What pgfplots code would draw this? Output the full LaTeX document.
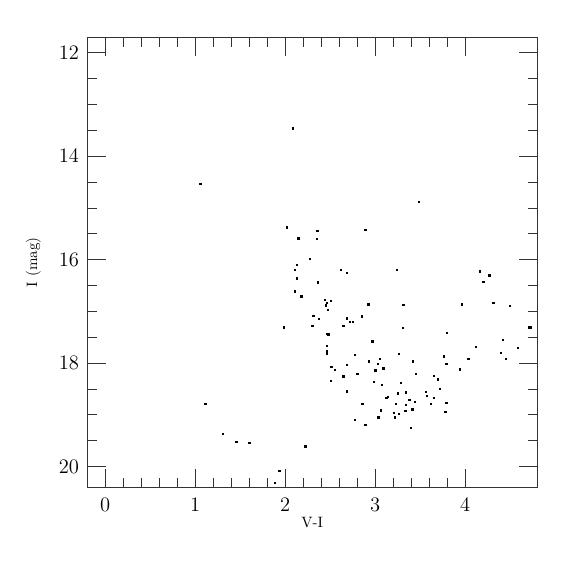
\documentclass[border=0pt]{standalone}
\usepackage{pgfplots}
\pgfplotsset{compat=1.18}
\begin{document}
\begin{tikzpicture}
\useasboundingbox (-61.1pt,-61.4pt) rectangle (341.4pt,341.1pt);
\begin{axis}[
  at={(0,0)}, anchor=south west,
  scale only axis, width=315pt, height=315pt,
  xmin=-0.2, xmax=4.8, ymin=11.7, ymax=20.4,
  y dir=reverse,
  xtick={0,1,2,3,4}, ytick={12,14,16,18,20},
  minor x tick num=4, minor y tick num=3,
  tick align=inside,
  major tick length=13pt, minor tick length=6.5pt,
  axis line style={black!80, line width=0.6pt},
  every tick/.style={black!80, line width=0.6pt},
  ticklabel style={font=\fontsize{13.5}{15}\selectfont},
  xticklabel style={yshift=-4.0pt},
  yticklabel style={xshift=-2.3pt},
  xlabel={V-I}, ylabel={I (mag)},
  label style={font=\fontsize{10.5}{12}\selectfont},
  xlabel style={at={(axis description cs:0.5,-0.079)}, anchor=center},
  ylabel style={at={(axis description cs:-0.12,0.5)}, anchor=center, rotate=0},
]
\addplot[only marks, mark=square*, mark size=0.5pt, black] table {
x y
2.082 13.455
1.056 14.537
3.482 14.885
2.019 15.374
2.356 15.445
2.889 15.420
2.145 15.587
2.349 15.600
2.271 15.980
2.130 16.100
2.104 16.190
2.619 16.200
2.686 16.250
3.237 16.190
4.160 16.220
4.267 16.300
4.200 16.430
2.126 16.360
2.363 16.440
2.104 16.610
2.178 16.710
2.437 16.780
2.504 16.790
2.460 16.830
2.452 16.880
2.471 16.970
2.922 16.860
3.311 16.870
3.960 16.860
4.311 16.830
4.493 16.890
2.311 17.080
2.370 17.140
2.686 17.130
2.719 17.200
2.748 17.200
2.852 17.090
2.645 17.280
2.300 17.280
1.986 17.310
3.308 17.320
4.712 17.310
4.728 17.310
3.793 17.410
2.460 17.430
2.478 17.440
2.967 17.580
4.416 17.550
2.460 17.660
4.115 17.680
4.582 17.700
2.460 17.760
2.460 17.810
2.771 17.840
3.263 17.820
4.393 17.800
3.760 17.870
3.049 17.920
4.033 17.920
4.449 17.920
2.926 17.960
3.416 17.960
3.026 18.010
3.789 18.010
2.511 18.070
2.548 18.130
2.682 18.030
2.800 18.210
2.645 18.250
3.000 18.140
3.089 18.100
3.941 18.120
3.452 18.200
3.652 18.240
3.697 18.310
2.508 18.340
2.986 18.360
3.286 18.380
3.074 18.420
3.719 18.490
2.682 18.540
3.560 18.550
3.252 18.580
3.337 18.560
3.571 18.630
3.652 18.670
3.137 18.650
3.122 18.670
3.378 18.710
3.441 18.750
3.615 18.790
3.789 18.770
3.230 18.780
3.341 18.810
2.856 18.780
1.111 18.790
3.411 18.890
3.333 18.920
3.060 18.910
3.208 18.960
3.263 18.980
3.778 18.940
2.771 19.100
3.033 19.050
3.219 19.050
2.889 19.190
3.393 19.250
1.308 19.360
1.456 19.520
1.600 19.540
2.222 19.610
1.933 20.080
1.886 20.310
};
\end{axis}
\end{tikzpicture}
\end{document}
